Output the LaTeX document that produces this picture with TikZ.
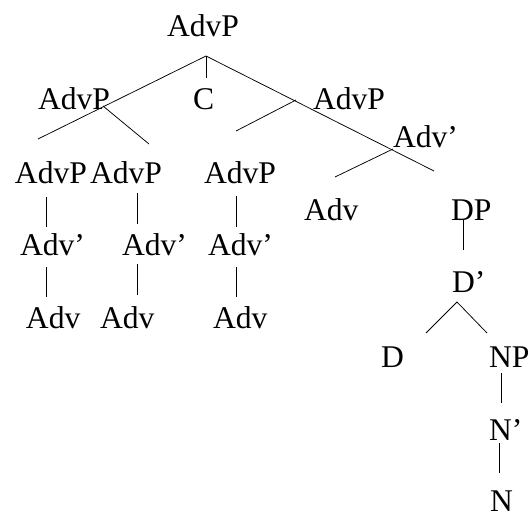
\documentclass[tikz,border=0pt]{standalone}
\usepackage{fontspec}
\setmainfont{Liberation Serif}
\begin{document}
\begin{tikzpicture}[x=1pt,y=-1pt,
  lbl/.style={anchor=base west,inner sep=0pt,outer sep=0pt,font=\fontsize{31.6}{36}\selectfont},
  edge/.style={draw=black,line width=0.75pt}]
\useasboundingbox (0,0) rectangle (531,514);
% labels
\node[lbl] (root) at (167,36) {AdvP};
\node[lbl] (lA) at (38,109) {AdvP};
\node[lbl] (cC) at (193,109) {C};
\node[lbl] (lB) at (313,109) {AdvP};
\node[lbl] (advbar) at (393,147) {Adv’};
\node[lbl] (pA) at (15,183) {AdvP};
\node[lbl] (pB) at (90,183) {AdvP};
\node[lbl] (pC) at (204,183) {AdvP};
\node[lbl] (adv) at (304,220) {Adv};
\node[lbl] (dp) at (451,220) {DP};
\node[lbl] (qA) at (20,255) {Adv’};
\node[lbl] (qB) at (122,255) {Adv’};
\node[lbl] (qC) at (208,255) {Adv’};
\node[lbl] (aA) at (26,328) {Adv};
\node[lbl] (aB) at (100,328) {Adv};
\node[lbl] (aC) at (213,328) {Adv};
\node[lbl] (dbar) at (452,292) {D’};
\node[lbl] (dd) at (381,367) {D};
\node[lbl] (np) at (489,367) {NP};
\node[lbl] (nbar) at (489,440) {N’};
\node[lbl] (nn) at (490,511) {N};
% line end points
\coordinate (r0) at (206,56);
\coordinate (r1) at (38,139);
\coordinate (r2) at (206,78);
\coordinate (r3) at (434,171);
\coordinate (a0) at (103,106);
\coordinate (a1) at (149,144);
\coordinate (b0) at (296,100);
\coordinate (b1) at (236,131);
\coordinate (c0) at (393,149);
\coordinate (c1) at (335,177);
\coordinate (v1t) at (46,197);  \coordinate (v1b) at (46,227);
\coordinate (v2t) at (137,193); \coordinate (v2b) at (137,224);
\coordinate (v3t) at (236,196); \coordinate (v3b) at (236,227);
\coordinate (w1t) at (46,267);  \coordinate (w1b) at (46,297);
\coordinate (w2t) at (137,264); \coordinate (w2b) at (137,295);
\coordinate (w3t) at (236,267); \coordinate (w3b) at (236,297);
\coordinate (dpt) at (463,220); \coordinate (dpb) at (463,250);
\coordinate (d0) at (457,302);
\coordinate (d1) at (426,333);
\coordinate (d2) at (487,333);
\coordinate (npt) at (501,373); \coordinate (npb) at (501,403);
\coordinate (nbt) at (499,443); \coordinate (nbb) at (499,473);
% connectors
\draw[edge] (r1) -- (r0) -- (r3);
\draw[edge] (r0) -- (r2);
\draw[edge] (a0) -- (a1);
\draw[edge] (b0) -- (b1);
\draw[edge] (c0) -- (c1);
\draw[edge] (v1t) -- (v1b);
\draw[edge] (v2t) -- (v2b);
\draw[edge] (v3t) -- (v3b);
\draw[edge] (w1t) -- (w1b);
\draw[edge] (w2t) -- (w2b);
\draw[edge] (w3t) -- (w3b);
\draw[edge] (dpt) -- (dpb);
\draw[edge] (d1) -- (d0) -- (d2);
\draw[edge] (npt) -- (npb);
\draw[edge] (nbt) -- (nbb);
\end{tikzpicture}
\end{document}
